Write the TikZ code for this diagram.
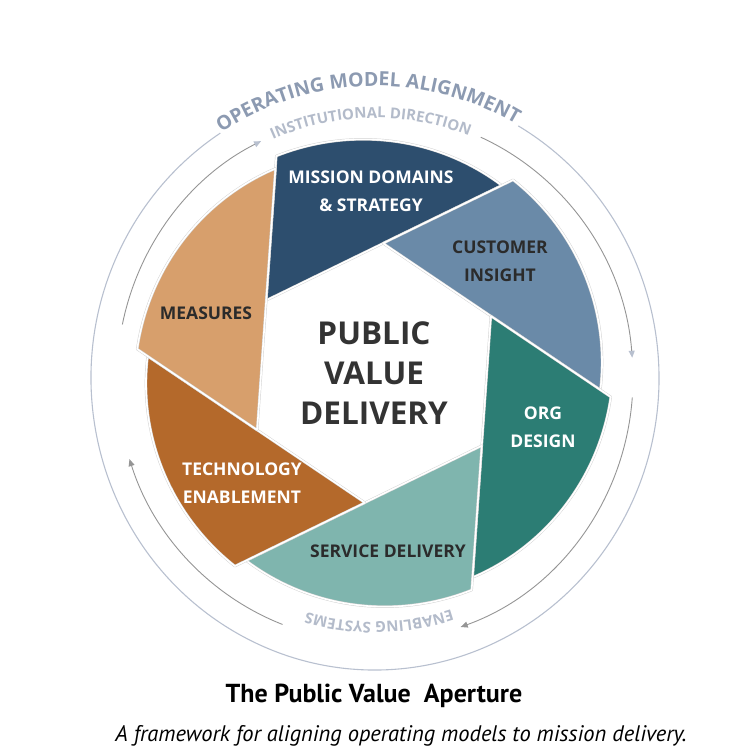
\documentclass[tikz,border=0pt]{standalone}
\usepackage{fontspec}
\setmainfont{Open Sans}
\newfontfamily\captionfont{PT Sans}
\usetikzlibrary{arrows.meta,calc,positioning,decorations.text}

\definecolor{missionblue}{HTML}{2D4E6E}
\definecolor{customerblue}{HTML}{6A8AA8}
\definecolor{orgteal}{HTML}{2C7D74}
\definecolor{serviceteal}{HTML}{7FB5AE}
\definecolor{techbrown}{HTML}{B4692B}
\definecolor{measurestan}{HTML}{D79F6C}
\definecolor{darktext}{HTML}{2B2B2B}
\definecolor{ringblue}{HTML}{B8C0CF}
\definecolor{ringgray}{HTML}{959595}
\definecolor{arctext}{HTML}{8C9AB1}
\definecolor{arctextlight}{HTML}{B3BBCA}

\begin{document}
\begin{tikzpicture}[x=1pt,y=1pt,
  bladetext/.style={font=\bfseries\fontsize{17.5}{28}\selectfont,align=center,text=darktext},
  whitetext/.style={bladetext,text=white},
  bladeedge/.style={draw=black!18,double=white,double distance=1.6pt,line width=0.45pt,line join=round},
  outerring/.style={draw=ringblue,line width=1.1pt},
  innerring/.style={draw=ringgray,line width=0.9pt},
  captiontext/.style={inner sep=0pt,text=black}]

  \useasboundingbox (-374,-377) rectangle (376,373);

  % hexagon corners of the aperture
  \foreach \k in {0,...,5}
    \coordinate (V\k) at ({146-60*\k}:130);
  \coordinate (V6) at (V0);

  % the six blades
  \foreach \k/\col in {0/missionblue,1/customerblue,2/orgteal,3/serviceteal,4/techbrown,5/measurestan}{
    \pgfmathtruncatemacro\nxt{\k+1}
    \pgfmathsetmacro\sa{146-60*\k-90.27}
    \pgfmathsetmacro\ea{146-60*\k-31.77}
    \filldraw[fill=\col,bladeedge] (V\k) -- (V\nxt)
      -- plot[domain=\sa:\ea,samples=40,variable=\t] (\t:{227+11*(\t-\sa)/58.5}) -- cycle;
  }

  % rings round the aperture
  \coordinate (rc) at (1,-5);
  \draw[outerring] ($(rc)+(59.7:284 and 292)$) arc[start angle=59.7,end angle=-237,x radius=284,y radius=292];
  \foreach \sa/\ea/\tip in {168.3/116.2/ringblue,65.8/4.4/ringblue,-4.2/-70.6/ringgray,-111/-162.1/ringgray}
    \draw[innerring,-{Triangle[length=7pt,width=6pt,color=\tip]}] ($(rc)+(\sa:258 and 264)$)
      arc[start angle=\sa,end angle=\ea,x radius=258,y radius=264];

  \path[decorate,decoration={text along path,text align=center,text color=arctext,
      text={|\bfseries\fontsize{19.5}{20}\selectfont|OPERATING MODEL ALIGNMENT}}]
    ($(rc)+(131.5:284 and 292)$) arc[start angle=131.5,end angle=51.5,x radius=284,y radius=292];
  \path[decorate,decoration={text along path,text align=center,text color=arctextlight,
      text={|\bfseries\fontsize{15}{16}\selectfont|INSTITUTIONAL DIRECTION}}]
    ($(rc)+(126:256 and 260)$) arc[start angle=126,end angle=56,x radius=256,y radius=260];
  \path[decorate,decoration={text along path,text align=center,text color=arctextlight,
      text={|\bfseries\fontsize{15}{16}\selectfont|ENABLING SYSTEMS}}]
    ($(rc)+(-54:244)$) arc[start angle=-54,end angle=-124,radius=244];

  % labels
  \node[bladetext,font=\bfseries\fontsize{31.5}{40}\selectfont,text=black!80] (core) at (0,0) {PUBLIC\\VALUE\\DELIVERY};
  \node[whitetext] (mission) at (-3,182) {MISSION DOMAINS\\\& STRATEGY};
  \node[bladetext] (customer) at (126,112) {CUSTOMER\\INSIGHT};
  \node[whitetext] (org) at (169,-54) {ORG\\DESIGN};
  \node[bladetext] (service) at (14,-178) {SERVICE DELIVERY};
  \node[whitetext] (tech) at (-132,-110) {TECHNOLOGY\\ENABLEMENT};
  \node[bladetext] (measures) at (-168,60) {MEASURES};

  \node[captiontext,font=\captionfont\bfseries\fontsize{26}{30}\selectfont] (title) at (0,-323) {The Public Value\ \ Aperture};
  \node[captiontext,font=\captionfont\itshape\fontsize{22.5}{26}\selectfont,below=17pt of title,xshift=27pt] (sub)
    {A framework for aligning operating models to mission delivery.};
\end{tikzpicture}
\end{document}
